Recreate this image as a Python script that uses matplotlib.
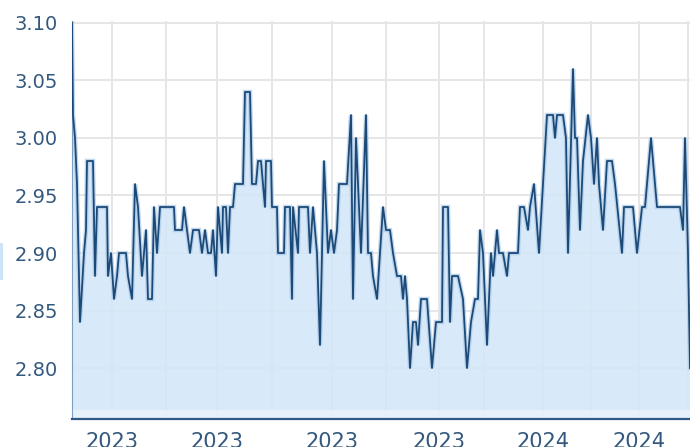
import matplotlib
matplotlib.use('Agg')
import matplotlib.pyplot as plt
from matplotlib.patches import Rectangle

# --------------------------------------------------
# Data (trading sessions since start, closing price)
# --------------------------------------------------

sessions = [0, 0.4, 1.2, 2.0, 3.2, 4.8, 5.6, 6.0, 8.4, 9.2, 10.0, 14.0, 14.4, 15.6,
            16.8, 18.0, 18.8, 21.6, 22.4, 24.0, 25.2, 26.4, 28.0, 29.6, 30.4, 32.0,
            32.8, 34.0, 35.2, 40.8, 41.2, 44.0, 44.8, 46.0, 47.2, 48.4, 50.8, 52.0,
            53.2, 54.4, 55.6, 56.4, 57.6, 58.4, 60.0, 60.4, 61.6, 62.4, 63.2, 64.4,
            65.2, 68.4, 69.2, 71.2, 72.0, 73.6, 74.4, 75.6, 76.4, 77.2, 77.6, 79.6,
            80.0, 82.0, 82.4, 84.8, 85.2, 87.2, 88.0, 88.4, 90.4, 90.8, 94.4, 95.2,
            96.4, 98.0, 99.2, 100.8, 102.4, 103.6, 104.8, 106.0, 106.8, 110.0, 111.6,
            112.4, 113.6, 114.4, 115.6, 117.6, 118.4, 119.6, 120.4, 122.0, 124.4,
            125.6, 127.2, 128.4, 130.0, 131.6, 132.4, 133.2, 134.0, 135.2, 136.4,
            137.6, 138.4, 139.6, 142.0, 144.0, 145.6, 148.0, 148.4, 150.4, 151.2,
            152.0, 154.4, 156.4, 158.0, 159.6, 161.2, 162.4, 163.2, 164.4, 166.0,
            167.6, 168.4, 170.0, 170.8, 172.4, 174.0, 174.8, 178.4, 179.2, 180.8,
            182.4, 183.2, 184.8, 186.8, 188.4, 190.0, 192.4, 193.2, 194.0, 196.4,
            197.6, 198.4, 200.4, 201.2, 202.0, 203.2, 204.4, 206.4, 207.6, 208.8,
            210.0, 210.8, 212.4, 214.0, 216.0, 217.2, 220.0, 220.8, 224.4, 226.0,
            228.0, 229.2, 231.6, 234.0, 243.2, 244.4, 245.2, 246.4, 247.2]

prices = [3.10, 3.02, 3.00, 2.96, 2.84, 2.90, 2.92, 2.98, 2.98, 2.88, 2.94, 2.94, 2.88, 2.90,
          2.86, 2.88, 2.90, 2.90, 2.88, 2.86, 2.96, 2.94, 2.88, 2.92, 2.86, 2.86,
          2.94, 2.90, 2.94, 2.94, 2.92, 2.92, 2.94, 2.92, 2.90, 2.92, 2.92, 2.90,
          2.92, 2.90, 2.90, 2.92, 2.88, 2.94, 2.90, 2.94, 2.94, 2.90, 2.94, 2.94,
          2.96, 2.96, 3.04, 3.04, 2.96, 2.96, 2.98, 2.98, 2.96, 2.94, 2.98, 2.98,
          2.94, 2.94, 2.90, 2.90, 2.94, 2.94, 2.86, 2.94, 2.90, 2.94, 2.94, 2.90,
          2.94, 2.90, 2.82, 2.98, 2.90, 2.92, 2.90, 2.92, 2.96, 2.96, 3.02,
          2.86, 3.00, 2.96, 2.90, 3.02, 2.90, 2.90, 2.88, 2.86, 2.94,
          2.92, 2.92, 2.90, 2.88, 2.88, 2.86, 2.88, 2.86, 2.80, 2.84,
          2.84, 2.82, 2.86, 2.86, 2.80, 2.84, 2.84, 2.94, 2.94, 2.84,
          2.88, 2.88, 2.86, 2.80, 2.84, 2.86, 2.86, 2.92, 2.90, 2.82,
          2.90, 2.88, 2.92, 2.90, 2.90, 2.88, 2.90, 2.90, 2.94, 2.94,
          2.92, 2.94, 2.96, 2.90, 2.96, 3.02, 3.02, 3.00, 3.02, 3.02,
          3.00, 2.90, 3.06, 3.00, 3.00, 2.92, 2.98, 3.02, 3.00, 2.96,
          3.00, 2.96, 2.92, 2.98, 2.98, 2.96, 2.90, 2.94, 2.94, 2.90,
          2.94, 2.94, 3.00, 2.94, 2.94, 2.92, 3.00, 2.90, 2.80]

grid_sessions = [16.0, 37.6, 58.0, 80.0, 104.0, 125.6, 146.8, 164.8, 188.4, 207.6, 226.8, 246.4]
label_sessions = [16.0, 58.0, 104.0, 146.8, 188.4, 226.8]
label_text = ['2023', '2023', '2023', '2023', '2024', '2024']
y_ticks = [2.80, 2.85, 2.90, 2.95, 3.00, 3.05, 3.10]

# --------------------------------------------------
# Style
# --------------------------------------------------

LINE_COLOR = '#1c4a78'
GLOW_COLOR = '#a9c8e6'
FILL_COLOR = '#d2e6f8'
GRID_COLOR = '#e6e6e6'
TEXT_COLOR = '#34597f'
Y_MIN, Y_MAX = 2.7557, 3.1017

fig = plt.figure(figsize=(6.9, 4.47), dpi=100)
ax = fig.add_axes([72 / 690, 28 / 447, 618 / 690, 398 / 447])

ax.set_xlim(0, 247.2)
ax.set_ylim(Y_MIN, Y_MAX)

# grid
for g in grid_sessions:
    ax.axvline(g, color=GRID_COLOR, lw=1.4, zorder=0)
for t in y_ticks:
    ax.axhline(t, color=GRID_COLOR, lw=1.4, zorder=0)

# area + line
ax.fill_between(sessions, prices, Y_MIN, color=FILL_COLOR, alpha=0.85, lw=0, zorder=1)
ax.axhspan(Y_MIN, 2.7635, color='#f2f7fd', alpha=0.6, lw=0, zorder=1.5)
ax.plot(sessions, prices, color=GLOW_COLOR, lw=3.2, alpha=0.7, zorder=2,
        solid_joinstyle='miter')
ax.plot(sessions, prices, color=LINE_COLOR, lw=1.3, zorder=3)

# axes styling
ax.set_yticks(y_ticks)
ax.set_yticklabels([f'{t:.2f}' for t in y_ticks])
ax.set_xticks(label_sessions)
ax.set_xticklabels(label_text)
ax.tick_params(axis='y', length=0, pad=10, labelsize=14, labelcolor=TEXT_COLOR)
ax.tick_params(axis='x', length=0, pad=9, labelsize=15, labelcolor=TEXT_COLOR)

ax.spines['top'].set_visible(False)
ax.spines['right'].set_visible(False)
ax.spines['left'].set_color('#7d9fc2')
ax.spines['left'].set_linewidth(0.8)
ax.spines['bottom'].set_color('#2f5a86')
ax.spines['bottom'].set_linewidth(1.6)

# small tooltip sliver at the left edge
fig.patches.append(Rectangle((0, 167 / 447), 3 / 690, 37 / 447,
                             transform=fig.transFigure, color='#cde3f7', lw=0))

fig.savefig('out.png', dpi=100)
plt.close()
